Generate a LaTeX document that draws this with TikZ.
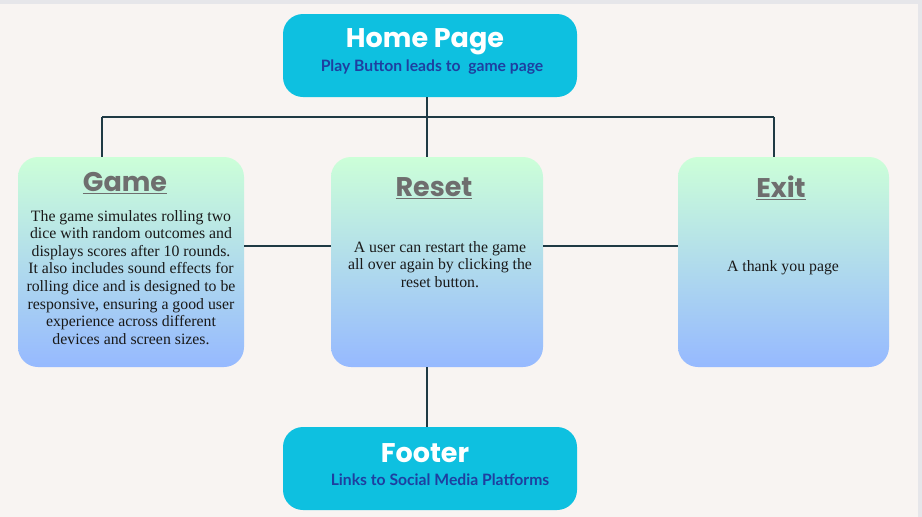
\documentclass[tikz,border=0pt]{standalone}
\usepackage{fontspec}
\setmainfont{Liberation Serif}
\newfontfamily\titlefont{Poppins}
\newfontfamily\subfont{Lato}
\definecolor{bg}{HTML}{F8F4F2}
\definecolor{frame}{HTML}{E6E6EA}
\definecolor{cyanbox}{HTML}{0EC0E0}
\definecolor{subblue}{HTML}{1E3FA0}
\definecolor{gtop}{HTML}{CCFFD8}
\definecolor{gbot}{HTML}{96B9FF}
\definecolor{titlegrey}{HTML}{6E6E6E}
\definecolor{linecol}{HTML}{1F3A44}
\tikzset{
  cyanpanel/.style={fill=cyanbox, rounded corners=20pt, draw=none},
  gradpanel/.style={top color=gtop, bottom color=gbot, rounded corners=20pt, draw=none},
  bigtitle/.style={text=white, font=\titlefont\bfseries\fontsize{27}{30}\selectfont, inner sep=0pt},
  subtitle/.style={text=subblue, font=\subfont\bfseries\fontsize{15.7}{18}\selectfont, inner sep=0pt},
  cardtitle/.style={text=titlegrey, font=\titlefont\bfseries\fontsize{27}{30}\selectfont, inner sep=0pt},
  body/.style={text=black!90, font=\fontsize{15.8}{17.6}\selectfont, align=center, inner sep=0pt},
  conn/.style={draw=linecol, line width=1.6pt}
}
\begin{document}
\begin{tikzpicture}[x=1pt,y=-1pt]
\useasboundingbox (0,0) rectangle (922,517);
\fill[frame] (0,0) rectangle (922,517);
\fill[bg] (0,4) rectangle (918,517);
% connectors
\coordinate (jl) at (102,117);
\coordinate (jc) at (427,117);
\coordinate (jr) at (774,117);
% panels
\path[cyanpanel] (283,14) rectangle (577,97);
\node[minimum width=294pt, minimum height=83pt, inner sep=0pt] (home) at (430,55.5) {};
\path[gradpanel] (18,157) rectangle (244,367);
\node[minimum width=226pt, minimum height=210pt, inner sep=0pt] (game) at (131,262) {};
\path[gradpanel] (331,157) rectangle (543,367);
\node[minimum width=212pt, minimum height=210pt, inner sep=0pt] (reset) at (437,262) {};
\path[gradpanel] (678,157) rectangle (889,367);
\node[minimum width=211pt, minimum height=210pt, inner sep=0pt] (exit) at (783.5,262) {};
\path[cyanpanel] (283,427) rectangle (577,510);
\node[minimum width=294pt, minimum height=83pt, inner sep=0pt] (footer) at (430,468.5) {};
\draw[conn] (427,97) -- (jc);
\draw[conn] (jl) -- (jr);
\draw[conn] (jl) -- (jl |- game.north);
\draw[conn] (jc) -- (jc |- reset.north);
\draw[conn] (jr) -- (jr |- exit.north);
\draw[conn] (game.east |- 0,246) -- (reset.west |- 0,246);
\draw[conn] (reset.east |- 0,246) -- (exit.west |- 0,246);
\draw[conn] (427,367) -- (427,427);
% texts
\node[bigtitle] (hometitle) at (425,42) {Home Page};
\node[subtitle] (homesub) at (432,67) {Play Button leads to \ game page};
\node[bigtitle] (foottitle) at (425,453) {Footer};
\node[subtitle] (footsub) at (440,480) {Links to Social Media Platforms};
\node[cardtitle] (gametitle) at (125,183) {\underline{Game}};
\node[cardtitle] (resettitle) at (434,188) {\underline{Reset}};
\node[cardtitle] (exittitle) at (781,188) {\underline{Exit}};
\node[body, anchor=north] (gamebody) at (131,210) {The game simulates rolling two\\dice with random outcomes and\\displays scores after 10 rounds.\\It also includes sound effects for\\rolling dice and is designed to be\\responsive, ensuring a good user\\experience across different\\devices and screen sizes.};
\node[body, anchor=north] (resetbody) at (440,241) {A user can restart the game\\all over again by clicking the\\reset button.};
\node[body] (exitbody) at (783,268) {A thank you page};
\end{tikzpicture}
\end{document}
